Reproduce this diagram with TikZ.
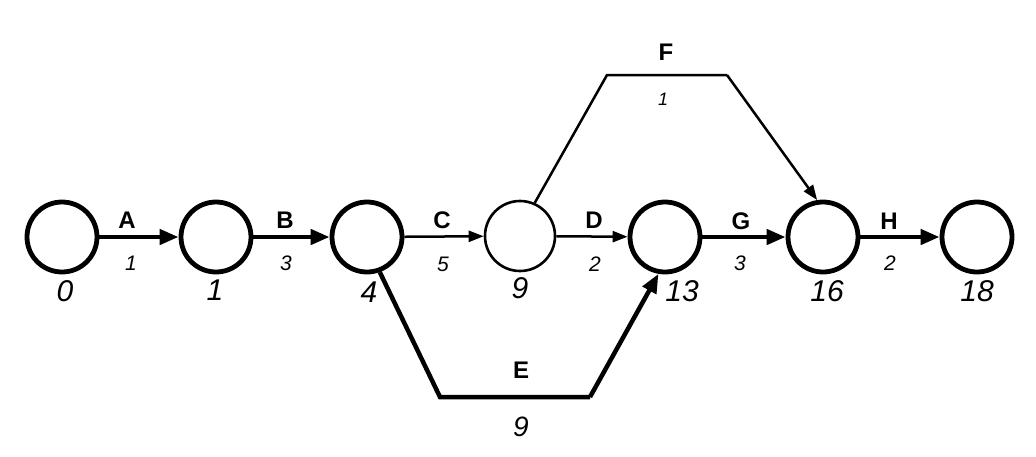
\documentclass[tikz,border=0pt]{standalone}
\usepackage{fontspec}
\setmainfont{Liberation Sans}
\usetikzlibrary{arrows.meta}
\begin{document}
\begin{tikzpicture}[x=1pt,y=-1pt,
  evt/.style={circle,draw=black,line width=4.8pt,minimum size=70pt,inner sep=0pt},
  evtthin/.style={circle,draw=black,line width=2.6pt,minimum size=70pt,inner sep=0pt},
  crit/.style={line width=4.5pt,-{Triangle[length=19pt,width=15pt]}},
  critE/.style={line width=4.5pt,line join=miter},
  norm/.style={line width=2.5pt,-{Triangle[length=15pt,width=11pt]}},
  normF/.style={line width=2.5pt},
  act/.style={font=\fontsize{24}{24}\selectfont\bfseries,inner sep=0pt},
  dur/.style={font=\fontsize{21}{21}\selectfont\itshape,inner sep=0pt},
  tim/.style={font=\fontsize{30}{30}\selectfont\itshape,inner sep=0pt}]
\useasboundingbox[fill=white] (0,0) rectangle (1036,456);
% events
\node[evt] (n0) at (62,237) {};
\node[evt] (n1) at (216,237) {};
\node[evt] (n4) at (367,237) {};
\node[evtthin] (n9) at (520,236) {};
\node[evt] (n13) at (665,237) {};
\node[evt] (n16) at (823,237) {};
\node[evt] (n18) at (977,237) {};
% event times
\node[tim] (t0) at (65,291) {0};
\node[tim] (t1) at (215,290) {1};
\node[tim] (t4) at (369,292) {4};
\node[tim] (t9) at (520,288) {9};
\node[tim] (t13) at (682,291) {13};
\node[tim] (t16) at (827,291) {16};
\node[tim] (t18) at (977,291) {18};
% bend points
\coordinate (f1) at (607,75);
\coordinate (f2) at (727,75);
\coordinate (e1) at (440,397);
\coordinate (e2) at (590,397);
% activities
\draw[crit] (n0) -- (n1);
\draw[crit] (n1) -- (n4);
\draw[norm] (n4) -- (n9);
\draw[norm] (n9) -- (n13);
\draw[crit] (n13) -- (n16);
\draw[crit] (n16) -- (n18);
\draw[normF] (n9.66) -- (f1) -- (f2);
\draw[norm] (f2) -- (n16.99);
\draw[critE] (n4.290) -- (e1) -- (e2);
\draw[crit] (e2) -- (n13.260);
% activity labels
\node[act] (lA) at (127,220) {A};
\node[act] (lB) at (285,220) {B};
\node[act] (lC) at (442,220) {C};
\node[act] (lD) at (594,220) {D};
\node[act] (lG) at (741,221) {G};
\node[act] (lH) at (889,221) {H};
\node[act] (lF) at (666,52) {F};
\node[act] (lE) at (521,370) {E};
% durations
\node[dur] (dA) at (131,263) {1};
\node[dur] (dB) at (286,263) {3};
\node[dur] (dC) at (443,264) {5};
\node[dur] (dD) at (595,264) {2};
\node[dur] (dG) at (740,263) {3};
\node[dur] (dH) at (890,263) {2};
\node[dur,font=\fontsize{18}{18}\selectfont\itshape] (dF) at (663,99) {1};
\node[dur,font=\fontsize{28}{28}\selectfont\itshape] (dE) at (521,427) {9};
\end{tikzpicture}
\end{document}
